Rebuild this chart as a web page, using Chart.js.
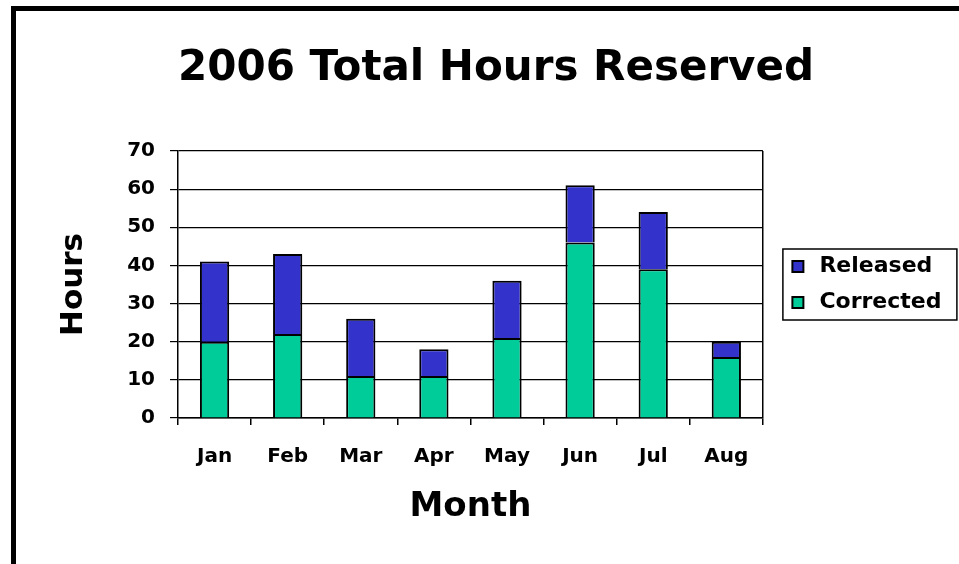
<!DOCTYPE html>
<html lang="en">
<head>
  <meta charset="UTF-8" />
  <title>2006 Total Hours Reserved</title>
  <script src="https://cdn.jsdelivr.net/npm/chart.js"></script>
  <style>
    body { margin: 0; background: #fff; }
    .marco {
      position: absolute;
      left: 11px; top: 6px; right: 0; bottom: 0;
      border-left: 5px solid #000;
      border-top: 5px solid #000;
    }
    #grafico { position: absolute; left: 0; top: 0; }
  </style>
</head>
<body>
  <div class="marco"></div>
  <canvas id="grafico" width="959" height="564"></canvas>

  <script>
    const meses = ['Jan', 'Feb', 'Mar', 'Apr', 'May', 'Jun', 'Jul', 'Aug'];
    const corrected = [20, 22, 11, 11, 21, 46, 39, 16];
    const released = [21, 21, 15, 7, 15, 15, 15, 4];
    const yMax = 70;
    const yStep = 10;

    const fuente = 'DejaVu Sans';
    Chart.defaults.color = '#000';
    Chart.defaults.font.family = fuente;
    Chart.defaults.font.weight = 'bold';

    // caja alrededor de la leyenda
    const marcoLeyenda = {
      id: 'marcoLeyenda',
      afterDraw(chart) {
        const lg = chart.legend;
        const pad = lg.options.labels.padding;
        const alto = 2 * (lg.options.labels.font.size + pad);
        const y0 = (lg.top + pad + lg.bottom - alto) / 2;
        const x0 = lg.left + pad - 4.5;
        const ctx = chart.ctx;
        ctx.save();
        ctx.strokeStyle = '#000';
        ctx.lineWidth = 1.5;
        ctx.strokeRect(x0, y0 - 6.5, 174, alto - pad + 13);
        ctx.restore();
      }
    };

    const ctx = document.getElementById('grafico').getContext('2d');
    new Chart(ctx, {
      type: 'bar',
      data: {
        labels: meses,
        datasets: [
          {
            label: 'Corrected',
            data: corrected,
            backgroundColor: '#00CC99',
            borderColor: '#000',
            borderWidth: 2
          },
          {
            label: 'Released',
            data: released,
            backgroundColor: '#3333CC',
            borderColor: '#000',
            borderWidth: 2
          }
        ]
      },
      options: {
        responsive: false,
        animation: false,
        categoryPercentage: 1,
        barPercentage: 0.4,
        layout: { padding: { left: 40.5, right: 7.5, top: 0, bottom: 0 } },
        plugins: {
          tooltip: { enabled: false },
          title: {
            display: true,
            text: '2006 Total Hours Reserved',
            font: { size: 42, weight: 'bold' },
            padding: { top: 43.8, bottom: 56.8 }
          },
          legend: {
            position: 'right',
            fullSize: false,
            reverse: true,
            labels: {
              usePointStyle: true,
              pointStyle: 'rect',
              boxWidth: 21,
              boxHeight: 11,
              padding: 14,
              font: { size: 22, weight: 'bold' }
            }
          }
        },
        scales: {
          x: {
            stacked: true,
            grid: {
              offset: true,
              tickLength: 7,
              tickColor: '#000',
              lineWidth: 1.5,
              // solo la linea final (borde derecho del area)
              color: (c) => (c.type === 'tick' ? 'rgba(0,0,0,0)' : '#000')
            },
            border: { color: '#000', width: 1.5 },
            ticks: { padding: 20, font: { size: 20 } },
            title: {
              display: true,
              text: 'Month',
              font: { size: 34, weight: 'bold' },
              padding: { top: 0, bottom: 36.6 }
            },
            afterFit(scale) { scale.height = 146; }
          },
          y: {
            stacked: true,
            min: 0,
            max: yMax,
            grid: { color: '#000', lineWidth: 1.2, tickLength: 8 },
            border: { color: '#000', width: 1.5 },
            ticks: { stepSize: yStep, padding: 15, font: { size: 20 } },
            title: {
              display: true,
              text: 'Hours',
              font: { size: 31, weight: 'bold' },
              padding: { top: 15, bottom: 0 }
            },
            afterFit(scale) { scale.width = 137.5; }
          },
          // eje oculto, solo deja hueco entre el area y la leyenda
          y2: {
            display: false,
            position: 'right',
            min: 0,
            max: yMax,
            afterFit(scale) { scale.width = 10.5; }
          }
        }
      },
      plugins: [marcoLeyenda]
    });
  </script>
</body>
</html>
